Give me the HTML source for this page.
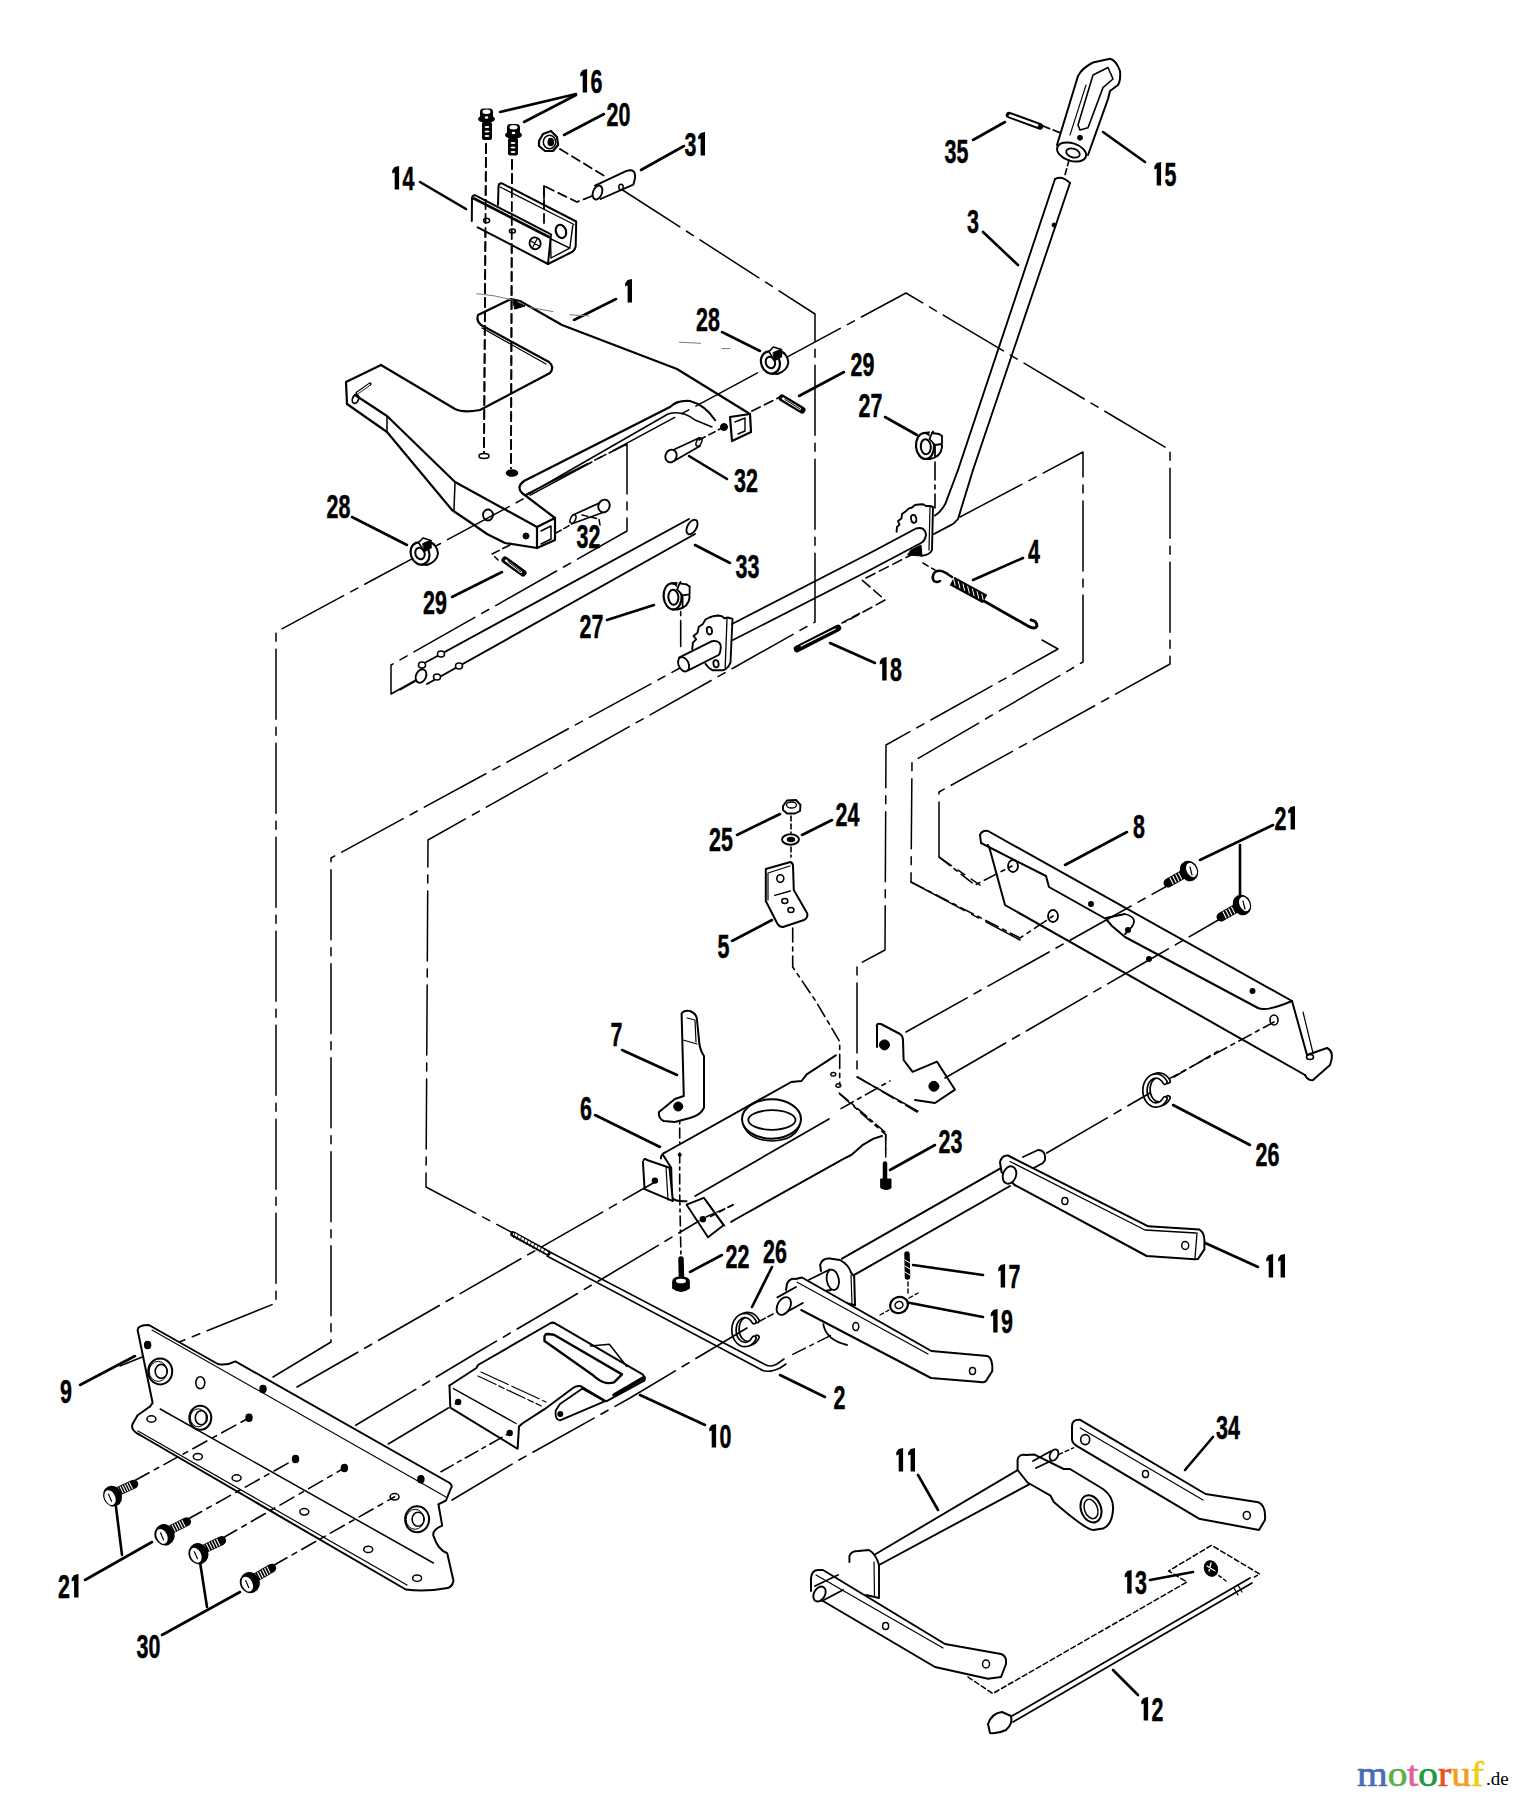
<!DOCTYPE html>
<html><head><meta charset="utf-8"><style>
html,body{margin:0;padding:0;background:#fff;}
svg{display:block;}
text{font-family:"Liberation Sans",sans-serif;font-weight:bold;fill:#000;}
</style></head><body>
<svg width="1516" height="1800" viewBox="0 0 1516 1800">
<rect width="1516" height="1800" fill="#fff"/>
<g fill="none" stroke="#000" stroke-linecap="round" stroke-linejoin="round">
<path d="M582.7,70.1 L587.1,69.1 L587.1,92.5 L582.7,92.5 L582.7,75.6 L580.3,76.6 L580.3,73.3 Z" fill="#000" stroke="none"/>
<g transform="translate(596.5,92.5) scale(0.650,1)"><text x="0" y="0" font-size="33.0" text-anchor="middle" stroke="#000" stroke-width="0.5">6</text></g>
<g transform="translate(612.5,125.5) scale(0.650,1)"><text x="0" y="0" font-size="33.0" text-anchor="middle" stroke="#000" stroke-width="0.5">2</text></g>
<g transform="translate(624.5,125.5) scale(0.650,1)"><text x="0" y="0" font-size="33.0" text-anchor="middle" stroke="#000" stroke-width="0.5">0</text></g>
<g transform="translate(690.5,155.5) scale(0.650,1)"><text x="0" y="0" font-size="33.0" text-anchor="middle" stroke="#000" stroke-width="0.5">3</text></g>
<path d="M700.6,133.1 L705.0,132.1 L705.0,155.5 L700.6,155.5 L700.6,138.6 L698.2,139.6 L698.2,136.3 Z" fill="#000" stroke="none"/>
<path d="M394.7,167.1 L399.1,166.1 L399.1,189.5 L394.7,189.5 L394.7,172.6 L392.3,173.6 L392.3,170.3 Z" fill="#000" stroke="none"/>
<g transform="translate(408.5,189.5) scale(0.650,1)"><text x="0" y="0" font-size="33.0" text-anchor="middle" stroke="#000" stroke-width="0.5">4</text></g>
<path d="M627.6,280.1 L632.0,279.1 L632.0,302.5 L627.6,302.5 L627.6,285.6 L625.2,286.6 L625.2,283.3 Z" fill="#000" stroke="none"/>
<g transform="translate(702.0,330.5) scale(0.650,1)"><text x="0" y="0" font-size="33.0" text-anchor="middle" stroke="#000" stroke-width="0.5">2</text></g>
<g transform="translate(714.0,330.5) scale(0.650,1)"><text x="0" y="0" font-size="33.0" text-anchor="middle" stroke="#000" stroke-width="0.5">8</text></g>
<g transform="translate(856.5,375.5) scale(0.650,1)"><text x="0" y="0" font-size="33.0" text-anchor="middle" stroke="#000" stroke-width="0.5">2</text></g>
<g transform="translate(868.5,375.5) scale(0.650,1)"><text x="0" y="0" font-size="33.0" text-anchor="middle" stroke="#000" stroke-width="0.5">9</text></g>
<g transform="translate(740.0,491.5) scale(0.650,1)"><text x="0" y="0" font-size="33.0" text-anchor="middle" stroke="#000" stroke-width="0.5">3</text></g>
<g transform="translate(752.0,491.5) scale(0.650,1)"><text x="0" y="0" font-size="33.0" text-anchor="middle" stroke="#000" stroke-width="0.5">2</text></g>
<g transform="translate(864.5,416.5) scale(0.650,1)"><text x="0" y="0" font-size="33.0" text-anchor="middle" stroke="#000" stroke-width="0.5">2</text></g>
<g transform="translate(876.5,416.5) scale(0.650,1)"><text x="0" y="0" font-size="33.0" text-anchor="middle" stroke="#000" stroke-width="0.5">7</text></g>
<g transform="translate(332.5,517.5) scale(0.650,1)"><text x="0" y="0" font-size="33.0" text-anchor="middle" stroke="#000" stroke-width="0.5">2</text></g>
<g transform="translate(344.5,517.5) scale(0.650,1)"><text x="0" y="0" font-size="33.0" text-anchor="middle" stroke="#000" stroke-width="0.5">8</text></g>
<g transform="translate(582.5,547.5) scale(0.650,1)"><text x="0" y="0" font-size="33.0" text-anchor="middle" stroke="#000" stroke-width="0.5">3</text></g>
<g transform="translate(594.5,547.5) scale(0.650,1)"><text x="0" y="0" font-size="33.0" text-anchor="middle" stroke="#000" stroke-width="0.5">2</text></g>
<g transform="translate(429.0,613.5) scale(0.650,1)"><text x="0" y="0" font-size="33.0" text-anchor="middle" stroke="#000" stroke-width="0.5">2</text></g>
<g transform="translate(441.0,613.5) scale(0.650,1)"><text x="0" y="0" font-size="33.0" text-anchor="middle" stroke="#000" stroke-width="0.5">9</text></g>
<g transform="translate(585.5,637.5) scale(0.650,1)"><text x="0" y="0" font-size="33.0" text-anchor="middle" stroke="#000" stroke-width="0.5">2</text></g>
<g transform="translate(597.5,637.5) scale(0.650,1)"><text x="0" y="0" font-size="33.0" text-anchor="middle" stroke="#000" stroke-width="0.5">7</text></g>
<g transform="translate(741.5,577.5) scale(0.650,1)"><text x="0" y="0" font-size="33.0" text-anchor="middle" stroke="#000" stroke-width="0.5">3</text></g>
<g transform="translate(753.5,577.5) scale(0.650,1)"><text x="0" y="0" font-size="33.0" text-anchor="middle" stroke="#000" stroke-width="0.5">3</text></g>
<g transform="translate(950.5,162.5) scale(0.650,1)"><text x="0" y="0" font-size="33.0" text-anchor="middle" stroke="#000" stroke-width="0.5">3</text></g>
<g transform="translate(962.5,162.5) scale(0.650,1)"><text x="0" y="0" font-size="33.0" text-anchor="middle" stroke="#000" stroke-width="0.5">5</text></g>
<path d="M1156.7,163.1 L1161.1,162.1 L1161.1,185.5 L1156.7,185.5 L1156.7,168.6 L1154.3,169.6 L1154.3,166.3 Z" fill="#000" stroke="none"/>
<g transform="translate(1170.5,185.5) scale(0.650,1)"><text x="0" y="0" font-size="33.0" text-anchor="middle" stroke="#000" stroke-width="0.5">5</text></g>
<g transform="translate(973.0,232.5) scale(0.650,1)"><text x="0" y="0" font-size="33.0" text-anchor="middle" stroke="#000" stroke-width="0.5">3</text></g>
<g transform="translate(1034.0,562.5) scale(0.650,1)"><text x="0" y="0" font-size="33.0" text-anchor="middle" stroke="#000" stroke-width="0.5">4</text></g>
<path d="M882.2,658.1 L886.6,657.1 L886.6,680.5 L882.2,680.5 L882.2,663.6 L879.8,664.6 L879.8,661.3 Z" fill="#000" stroke="none"/>
<g transform="translate(896.0,680.5) scale(0.650,1)"><text x="0" y="0" font-size="33.0" text-anchor="middle" stroke="#000" stroke-width="0.5">8</text></g>
<g transform="translate(715.0,850.5) scale(0.650,1)"><text x="0" y="0" font-size="33.0" text-anchor="middle" stroke="#000" stroke-width="0.5">2</text></g>
<g transform="translate(727.0,850.5) scale(0.650,1)"><text x="0" y="0" font-size="33.0" text-anchor="middle" stroke="#000" stroke-width="0.5">5</text></g>
<g transform="translate(841.5,825.5) scale(0.650,1)"><text x="0" y="0" font-size="33.0" text-anchor="middle" stroke="#000" stroke-width="0.5">2</text></g>
<g transform="translate(853.5,825.5) scale(0.650,1)"><text x="0" y="0" font-size="33.0" text-anchor="middle" stroke="#000" stroke-width="0.5">4</text></g>
<g transform="translate(723.5,957.5) scale(0.650,1)"><text x="0" y="0" font-size="33.0" text-anchor="middle" stroke="#000" stroke-width="0.5">5</text></g>
<g transform="translate(616.5,1045.5) scale(0.650,1)"><text x="0" y="0" font-size="33.0" text-anchor="middle" stroke="#000" stroke-width="0.5">7</text></g>
<g transform="translate(586.0,1119.5) scale(0.650,1)"><text x="0" y="0" font-size="33.0" text-anchor="middle" stroke="#000" stroke-width="0.5">6</text></g>
<g transform="translate(1139.0,837.5) scale(0.650,1)"><text x="0" y="0" font-size="33.0" text-anchor="middle" stroke="#000" stroke-width="0.5">8</text></g>
<g transform="translate(1280.5,829.5) scale(0.650,1)"><text x="0" y="0" font-size="33.0" text-anchor="middle" stroke="#000" stroke-width="0.5">2</text></g>
<path d="M1290.6,807.1 L1295.0,806.1 L1295.0,829.5 L1290.6,829.5 L1290.6,812.6 L1288.2,813.6 L1288.2,810.3 Z" fill="#000" stroke="none"/>
<g transform="translate(944.5,1152.5) scale(0.650,1)"><text x="0" y="0" font-size="33.0" text-anchor="middle" stroke="#000" stroke-width="0.5">2</text></g>
<g transform="translate(956.5,1152.5) scale(0.650,1)"><text x="0" y="0" font-size="33.0" text-anchor="middle" stroke="#000" stroke-width="0.5">3</text></g>
<g transform="translate(731.5,1267.5) scale(0.650,1)"><text x="0" y="0" font-size="33.0" text-anchor="middle" stroke="#000" stroke-width="0.5">2</text></g>
<g transform="translate(743.5,1267.5) scale(0.650,1)"><text x="0" y="0" font-size="33.0" text-anchor="middle" stroke="#000" stroke-width="0.5">2</text></g>
<g transform="translate(769.0,1262.5) scale(0.650,1)"><text x="0" y="0" font-size="33.0" text-anchor="middle" stroke="#000" stroke-width="0.5">2</text></g>
<g transform="translate(781.0,1262.5) scale(0.650,1)"><text x="0" y="0" font-size="33.0" text-anchor="middle" stroke="#000" stroke-width="0.5">6</text></g>
<g transform="translate(1261.5,1166.0) scale(0.650,1)"><text x="0" y="0" font-size="33.0" text-anchor="middle" stroke="#000" stroke-width="0.5">2</text></g>
<g transform="translate(1273.5,1166.0) scale(0.650,1)"><text x="0" y="0" font-size="33.0" text-anchor="middle" stroke="#000" stroke-width="0.5">6</text></g>
<path d="M1000.7,1265.1 L1005.1,1264.1 L1005.1,1287.5 L1000.7,1287.5 L1000.7,1270.6 L998.3,1271.6 L998.3,1268.3 Z" fill="#000" stroke="none"/>
<g transform="translate(1014.5,1287.5) scale(0.650,1)"><text x="0" y="0" font-size="33.0" text-anchor="middle" stroke="#000" stroke-width="0.5">7</text></g>
<path d="M993.2,1310.1 L997.6,1309.1 L997.6,1332.5 L993.2,1332.5 L993.2,1315.6 L990.8,1316.6 L990.8,1313.3 Z" fill="#000" stroke="none"/>
<g transform="translate(1007.0,1332.5) scale(0.650,1)"><text x="0" y="0" font-size="33.0" text-anchor="middle" stroke="#000" stroke-width="0.5">9</text></g>
<path d="M1268.7,1255.1 L1273.1,1254.1 L1273.1,1277.5 L1268.7,1277.5 L1268.7,1260.6 L1266.3,1261.6 L1266.3,1258.3 Z" fill="#000" stroke="none"/>
<path d="M1280.6,1255.1 L1285.0,1254.1 L1285.0,1277.5 L1280.6,1277.5 L1280.6,1260.6 L1278.2,1261.6 L1278.2,1258.3 Z" fill="#000" stroke="none"/>
<g transform="translate(839.5,1408.5) scale(0.650,1)"><text x="0" y="0" font-size="33.0" text-anchor="middle" stroke="#000" stroke-width="0.5">2</text></g>
<path d="M711.7,1425.1 L716.1,1424.1 L716.1,1447.5 L711.7,1447.5 L711.7,1430.6 L709.3,1431.6 L709.3,1428.3 Z" fill="#000" stroke="none"/>
<g transform="translate(725.5,1447.5) scale(0.650,1)"><text x="0" y="0" font-size="33.0" text-anchor="middle" stroke="#000" stroke-width="0.5">0</text></g>
<g transform="translate(66.0,1402.5) scale(0.650,1)"><text x="0" y="0" font-size="33.0" text-anchor="middle" stroke="#000" stroke-width="0.5">9</text></g>
<g transform="translate(64.0,1597.5) scale(0.650,1)"><text x="0" y="0" font-size="33.0" text-anchor="middle" stroke="#000" stroke-width="0.5">2</text></g>
<path d="M74.1,1575.1 L78.5,1574.1 L78.5,1597.5 L74.1,1597.5 L74.1,1580.6 L71.7,1581.6 L71.7,1578.3 Z" fill="#000" stroke="none"/>
<g transform="translate(142.5,1657.5) scale(0.650,1)"><text x="0" y="0" font-size="33.0" text-anchor="middle" stroke="#000" stroke-width="0.5">3</text></g>
<g transform="translate(154.5,1657.5) scale(0.650,1)"><text x="0" y="0" font-size="33.0" text-anchor="middle" stroke="#000" stroke-width="0.5">0</text></g>
<g transform="translate(1222.0,1438.5) scale(0.650,1)"><text x="0" y="0" font-size="33.0" text-anchor="middle" stroke="#000" stroke-width="0.5">3</text></g>
<g transform="translate(1234.0,1438.5) scale(0.650,1)"><text x="0" y="0" font-size="33.0" text-anchor="middle" stroke="#000" stroke-width="0.5">4</text></g>
<path d="M898.7,1449.1 L903.1,1448.1 L903.1,1471.5 L898.7,1471.5 L898.7,1454.6 L896.3,1455.6 L896.3,1452.3 Z" fill="#000" stroke="none"/>
<path d="M910.6,1449.1 L915.0,1448.1 L915.0,1471.5 L910.6,1471.5 L910.6,1454.6 L908.2,1455.6 L908.2,1452.3 Z" fill="#000" stroke="none"/>
<path d="M1127.2,1571.1 L1131.6,1570.1 L1131.6,1593.5 L1127.2,1593.5 L1127.2,1576.6 L1124.8,1577.6 L1124.8,1574.3 Z" fill="#000" stroke="none"/>
<g transform="translate(1141.0,1593.5) scale(0.650,1)"><text x="0" y="0" font-size="33.0" text-anchor="middle" stroke="#000" stroke-width="0.5">3</text></g>
<path d="M1143.7,1698.1 L1148.1,1697.1 L1148.1,1720.5 L1143.7,1720.5 L1143.7,1703.6 L1141.3,1704.6 L1141.3,1701.3 Z" fill="#000" stroke="none"/>
<g transform="translate(1157.5,1720.5) scale(0.650,1)"><text x="0" y="0" font-size="33.0" text-anchor="middle" stroke="#000" stroke-width="0.5">2</text></g>
<line x1="576" y1="94" x2="500" y2="112" stroke-width="2.6"/>
<line x1="576" y1="95" x2="524" y2="122" stroke-width="2.6"/>
<line x1="604" y1="114" x2="564" y2="135" stroke-width="2.6"/>
<line x1="684" y1="146" x2="641" y2="170" stroke-width="2.6"/>
<line x1="420" y1="182" x2="466" y2="209" stroke-width="2.6"/>
<line x1="616" y1="299" x2="574" y2="320" stroke-width="2.6"/>
<line x1="722" y1="332" x2="760" y2="351" stroke-width="2.6"/>
<line x1="844" y1="372" x2="799" y2="396" stroke-width="2.6"/>
<line x1="689" y1="456" x2="727" y2="479" stroke-width="2.6"/>
<line x1="885" y1="417" x2="917" y2="435" stroke-width="2.6"/>
<line x1="352" y1="517" x2="407" y2="545" stroke-width="2.6"/>
<line x1="452" y1="597" x2="502" y2="572" stroke-width="2.6"/>
<line x1="607" y1="620" x2="654" y2="605" stroke-width="2.6"/>
<line x1="973" y1="140" x2="1005" y2="122" stroke-width="2.6"/>
<line x1="1103" y1="132" x2="1145" y2="162" stroke-width="2.6"/>
<line x1="983" y1="232" x2="1018" y2="265" stroke-width="2.6"/>
<line x1="973" y1="580" x2="1023" y2="558" stroke-width="2.6"/>
<line x1="830" y1="643" x2="875" y2="663" stroke-width="2.6"/>
<line x1="737" y1="835" x2="780" y2="814" stroke-width="2.6"/>
<line x1="802" y1="835" x2="832" y2="820" stroke-width="2.6"/>
<line x1="732" y1="941" x2="772" y2="920" stroke-width="2.6"/>
<line x1="622" y1="1050" x2="677" y2="1075" stroke-width="2.6"/>
<line x1="595" y1="1115" x2="660" y2="1147" stroke-width="2.6"/>
<line x1="1065" y1="865" x2="1127" y2="832" stroke-width="2.6"/>
<line x1="1200" y1="860" x2="1273" y2="825" stroke-width="2.6"/>
<line x1="690" y1="1272" x2="722" y2="1255" stroke-width="2.6"/>
<line x1="752" y1="1307" x2="772" y2="1267" stroke-width="2.6"/>
<line x1="1173" y1="1105" x2="1250" y2="1145" stroke-width="2.6"/>
<line x1="890" y1="1170" x2="935" y2="1145" stroke-width="2.6"/>
<line x1="1203" y1="1242" x2="1258" y2="1267" stroke-width="2.6"/>
<line x1="913" y1="1265" x2="983" y2="1275" stroke-width="2.6"/>
<line x1="905" y1="1302" x2="983" y2="1317" stroke-width="2.6"/>
<line x1="780" y1="1375" x2="825" y2="1397" stroke-width="2.6"/>
<line x1="640" y1="1395" x2="705" y2="1425" stroke-width="2.6"/>
<line x1="80" y1="1385" x2="135" y2="1356" stroke-width="2.6"/>
<line x1="85" y1="1580" x2="152" y2="1542" stroke-width="2.6"/>
<line x1="116" y1="1507" x2="122" y2="1555" stroke-width="2.6"/>
<line x1="162" y1="1635" x2="240" y2="1592" stroke-width="2.6"/>
<line x1="200" y1="1562" x2="207" y2="1607" stroke-width="2.6"/>
<line x1="1185" y1="1470" x2="1213" y2="1437" stroke-width="2.6"/>
<line x1="918" y1="1475" x2="938" y2="1510" stroke-width="2.6"/>
<line x1="1150" y1="1580" x2="1193" y2="1572" stroke-width="2.6"/>
<line x1="1113" y1="1670" x2="1138" y2="1695" stroke-width="2.6"/>
<line x1="695" y1="545" x2="730" y2="563" stroke-width="2.6"/>
<line x1="1240" y1="845" x2="1240" y2="905" stroke-width="2.6"/>
<polyline points="621,189 815,314 815,622 428,840 426,1187 513,1233" stroke-width="1.5" fill="none" stroke-dasharray="70 8 8 8" stroke-dashoffset="0"/>
<polyline points="120,1366 276,1303 276,632 906,293 1170,450 1170,664 939,792 939,857 980,885" stroke-width="1.5" fill="none" stroke-dasharray="70 8 8 8" stroke-dashoffset="0"/>
<polyline points="273,1377 331,1342 331,858 680,668" stroke-width="1.5" fill="none" stroke-dasharray="70 8 8 8" stroke-dashoffset="0"/>
<polyline points="960,517 1083,452 1083,662 912,762 911,882 1020,940" stroke-width="1.5" fill="none" stroke-dasharray="70 8 8 8" stroke-dashoffset="0"/>
<polyline points="923,563 935,570" stroke-width="1.5" fill="none" stroke-dasharray="6 4" stroke-dashoffset="0"/>
<polyline points="1042,640 1058,649 886,745 885,950 857,965 857,1077 925,1115" stroke-width="1.5" fill="none" stroke-dasharray="70 8 8 8" stroke-dashoffset="0"/>
<polyline points="525,495 627,444 627,531 391,665 391,694 416,680" stroke-width="1.5" fill="none" stroke-dasharray="70 8 8 8" stroke-dashoffset="0"/>
<polyline points="915,553 862,580 885,600 845,622" stroke-width="1.6" fill="none" stroke-dasharray="10 5" stroke-dashoffset="0"/>
<rect x="480" y="108.5" width="13" height="11.5" rx="3.5" fill="#000" stroke="none"/>
<ellipse cx="486.5" cy="119" rx="8.5" ry="4" transform="rotate(0 486.5 119)" stroke-width="0" fill="#000"/>
<rect x="482" y="122" width="10" height="18" rx="2" fill="#000" stroke="none"/>
<ellipse cx="486.5" cy="111.7" rx="4.0" ry="2.2" transform="rotate(0 486.5 111.7)" stroke-width="0" fill="#fff"/>
<ellipse cx="486.5" cy="117.5" rx="1.8" ry="1.2" transform="rotate(0 486.5 117.5)" stroke-width="0" fill="#fff"/>
<ellipse cx="487.0" cy="127.0" rx="2.5" ry="0.9" transform="rotate(0 487.0 127.0)" stroke-width="0" fill="#fff"/>
<ellipse cx="487.0" cy="131.5" rx="2.5" ry="0.9" transform="rotate(0 487.0 131.5)" stroke-width="0" fill="#fff"/>
<ellipse cx="487.0" cy="136.0" rx="2.5" ry="0.9" transform="rotate(0 487.0 136.0)" stroke-width="0" fill="#fff"/>
<rect x="507" y="124" width="13" height="12" rx="3.5" fill="#000" stroke="none"/>
<ellipse cx="513.5" cy="135" rx="8.5" ry="4" transform="rotate(0 513.5 135)" stroke-width="0" fill="#000"/>
<rect x="508" y="138" width="10" height="17.5" rx="2" fill="#000" stroke="none"/>
<ellipse cx="513.5" cy="127.2" rx="4.0" ry="2.2" transform="rotate(0 513.5 127.2)" stroke-width="0" fill="#fff"/>
<ellipse cx="513.5" cy="133" rx="1.8" ry="1.2" transform="rotate(0 513.5 133)" stroke-width="0" fill="#fff"/>
<ellipse cx="513.0" cy="143.0" rx="2.5" ry="0.9" transform="rotate(0 513.0 143.0)" stroke-width="0" fill="#fff"/>
<ellipse cx="513.0" cy="147.5" rx="2.5" ry="0.9" transform="rotate(0 513.0 147.5)" stroke-width="0" fill="#fff"/>
<ellipse cx="513.0" cy="152.0" rx="2.5" ry="0.9" transform="rotate(0 513.0 152.0)" stroke-width="0" fill="#fff"/>
<polyline points="486,144 484,452" stroke-width="1.8" fill="none" stroke-dasharray="9 5" stroke-dashoffset="0"/>
<polyline points="512,160 511,468" stroke-width="1.8" fill="none" stroke-dasharray="9 5" stroke-dashoffset="0"/>
<ellipse cx="484" cy="456" rx="5" ry="2.5" transform="rotate(0 484 456)" stroke-width="1.6" fill="none"/>
<ellipse cx="512" cy="473" rx="5.5" ry="3" transform="rotate(0 512 473)" stroke-width="1.6" fill="#000"/>
<path d="M539,141 L543,134 L551,131 L557,137 L558,145 L553,151 L545,151 L539,146 Z" stroke-width="2.2" fill="#fff" />
<ellipse cx="549.5" cy="142" rx="6.2" ry="6.8" transform="rotate(0 549.5 142)" stroke-width="1.5" fill="none"/>
<ellipse cx="550.8" cy="142" rx="3.3" ry="4.3" transform="rotate(0 550.8 142)" stroke-width="0" fill="#000"/>
<polyline points="560,149 606,177" stroke-width="1.8" fill="none" stroke-dasharray="9 5" stroke-dashoffset="0"/>
<path d="M595,185.7 L626.5,170.9 Q636,168 635,178 Q634,183 633.3,184.6 L600.6,199" stroke-width="1.9" fill="#fff" />
<ellipse cx="597.5" cy="192.5" rx="4.5" ry="7.2" transform="rotate(20 597.5 192.5)" stroke-width="1.9" fill="#fff"/>
<ellipse cx="621" cy="187" rx="2.2" ry="2.8" transform="rotate(0 621 187)" stroke-width="1.5" fill="none"/>
<polyline points="592,196 577,202 544,186 544,226" stroke-width="1.8" fill="none" stroke-dasharray="9 5" stroke-dashoffset="0"/>
<path d="M498,204.7 L498.5,186 Q499,183 502,183.4 L576.2,221.5 L575.7,246 Q575,251 570,253 L548,264" stroke-width="2.0" fill="#fff" />
<path d="M500,187 L574,224.5" stroke-width="1.3" fill="none" />
<path d="M471.8,221 L472,198 Q472.5,195 475,195.2 L551,234.4 L548,264 L477.7,227.4" stroke-width="2.0" fill="#fff" />
<path d="M474,198.5 L549,237" stroke-width="2.6" fill="none" />
<path d="M550.5,238.3 L551,258 L569.8,248.2 L572.8,225.4 M551,239 L569.8,248.2" stroke-width="1.4" fill="none" />
<ellipse cx="486.6" cy="220.5" rx="3" ry="2.3" transform="rotate(0 486.6 220.5)" stroke-width="1.5" fill="none"/>
<ellipse cx="512.4" cy="231" rx="3" ry="2" transform="rotate(0 512.4 231)" stroke-width="1.5" fill="none"/>
<ellipse cx="535.1" cy="243.3" rx="5.5" ry="6" transform="rotate(-20 535.1 243.3)" stroke-width="1.8" fill="none"/>
<path d="M531,241 L539,246 M533,247 L537,239" stroke-width="1.2" fill="none" />
<ellipse cx="561" cy="231.4" rx="5" ry="6.8" transform="rotate(-20 561 231.4)" stroke-width="2.2" fill="none"/>
<polyline points="486,144 484,452" stroke-width="1.8" fill="none" stroke-dasharray="9 5" stroke-dashoffset="0"/>
<polyline points="512,160 511,468" stroke-width="1.8" fill="none" stroke-dasharray="9 5" stroke-dashoffset="0"/>
<polyline points="544,186 544,226" stroke-width="1.8" fill="none" stroke-dasharray="9 5" stroke-dashoffset="0"/>
<path d="M381,365 L346,382 L347,404" stroke-width="2.2" fill="none" />
<path d="M381,365 L455,409 Q463,413 480,410 L550,373 Q555,367 549,362 L481,325 Q476,321 478,315 L511,299 L520,301 L562,325 L677,369 L750,414" stroke-width="2.2" fill="none" />
<path d="M482,328 L546,364" stroke-width="1.3" fill="none" />
<path d="M513,300 L525,306 L515,309 Z" stroke-width="1" fill="#000" />
<path d="M355,395 L387,416 L455,482 L537,527" stroke-width="2.2" fill="none" />
<path d="M347,404 L387,432 L452,510 Q470,522 487,534 L505,543 L537,548" stroke-width="2.2" fill="none" />
<path d="M387,416 L387,432 M455,482 L454,510" stroke-width="1.5" fill="none" />
<path d="M537,527 L555,518 L555,540 L537,548 Z" stroke-width="2.2" fill="none" />
<path d="M541,531 L551,526 L551,539 L541,544" stroke-width="1.5" fill="none" />
<path d="M555,518 L522,493 Q516,487 524,481 L670,407 Q677,400 690,401 Q705,405 715,420" stroke-width="2.2" fill="none" />
<path d="M527,495 L668,414 Q682,410 695,420 L712,427" stroke-width="1.5" fill="none" />
<path d="M750,414 L751,432 L732,441 L730,417 Z" stroke-width="2.2" fill="none" />
<path d="M735,422 L745,418 L745,431 L738,434" stroke-width="1.4" fill="none" />
<ellipse cx="488" cy="515" rx="5" ry="5.5" transform="rotate(0 488 515)" stroke-width="1.8" fill="none"/>
<circle cx="526" cy="536" r="3" stroke-width="1" fill="#000"/>
<circle cx="724" cy="427" r="3.5" stroke-width="1" fill="#000"/>
<path d="M357,393 L370,384" stroke-width="3.2" fill="none" />
<path d="M357.5,393 L369.5,384.5" stroke-width="1.2" fill="none" stroke="#fff"/>
<ellipse cx="355.5" cy="399" rx="3" ry="4.5" transform="rotate(20 355.5 399)" stroke-width="1.7" fill="none"/>
<path d="M477,293.7 Q495,295 512.8,300 M529.7,307.4 L552.9,311.6 M569.8,314.8 L588.8,315.9 M679.5,342.2 L700.6,343.3 M721.8,348.6 L730,348.6" stroke="#777" stroke-width="1" fill="none"/>
<path d="M423,543.0 L429,541.5 Q437,544.5 438,553.5 Q437,561.5 427,565.0 L422,564.5" stroke-width="2.0" fill="#fff" />
<ellipse cx="420" cy="553.5" rx="9.2" ry="11.3" transform="rotate(-20 420 553.5)" stroke-width="2.2" fill="#fff"/>
<ellipse cx="420" cy="553.5" rx="4.6" ry="5.8" transform="rotate(-20 420 553.5)" stroke-width="2.0" fill="none"/>
<path d="M418.5,542.5 L423,538.0 L431,540.5 L431,547.5 L424,551.5 Z" stroke-width="1.6" fill="#fff" />
<path d="M423,543.5 L430,540.5 L430.5,547.0 L424,551.0 Z" stroke-width="1" fill="#000" />
<path d="M773.4,352.0 L779.4,350.5 Q787.4,353.5 788.4,362.5 Q787.4,370.5 777.4,374.0 L772.4,373.5" stroke-width="2.0" fill="#fff" />
<ellipse cx="770.4" cy="362.5" rx="9.2" ry="11.3" transform="rotate(-20 770.4 362.5)" stroke-width="2.2" fill="#fff"/>
<ellipse cx="770.4" cy="362.5" rx="4.6" ry="5.8" transform="rotate(-20 770.4 362.5)" stroke-width="2.0" fill="none"/>
<path d="M768.9,351.5 L773.4,347.0 L781.4,349.5 L781.4,356.5 L774.4,360.5 Z" stroke-width="1.6" fill="#fff" />
<path d="M773.4,352.5 L780.4,349.5 L780.9,356.0 L774.4,360.0 Z" stroke-width="1" fill="#000" />
<path d="M505,560 L523,573" stroke-width="7" fill="none" />
<path d="M506,560.5 L521,572" stroke-width="2.2" fill="none" stroke="#fff"/>
<path d="M508,561.5 L521,572" stroke-width="1.0" fill="none" />
<path d="M782,398 L802,410" stroke-width="7" fill="none" />
<path d="M783,398.5 L800,409" stroke-width="2.2" fill="none" stroke="#fff"/>
<path d="M785,399.5 L800,409" stroke-width="1.0" fill="none" />
<polyline points="752,411 780,397" stroke-width="1.8" fill="none" stroke-dasharray="9 5" stroke-dashoffset="0"/>
<polyline points="510,545 492,554 498,560" stroke-width="1.6" fill="none" stroke-dasharray="8 4" stroke-dashoffset="0"/>
<path d="M673,450 L699,438 M674,461 L700,446" stroke-width="1.8" fill="none" />
<ellipse cx="699" cy="442" rx="2.5" ry="4.5" transform="rotate(25 699 442)" stroke-width="1.5" fill="none"/>
<ellipse cx="671" cy="456" rx="5.5" ry="6.5" transform="rotate(25 671 456)" stroke-width="1.9" fill="#fff"/>
<path d="M606,500 L573,515 M607,511 L574,523" stroke-width="1.8" fill="none" />
<ellipse cx="573" cy="519" rx="2.5" ry="4.5" transform="rotate(25 573 519)" stroke-width="1.5" fill="none"/>
<ellipse cx="604" cy="506" rx="5.5" ry="6.5" transform="rotate(25 604 506)" stroke-width="1.9" fill="#fff"/>
<polyline points="699,440 722,428" stroke-width="1.6" fill="none" stroke-dasharray="7 4" stroke-dashoffset="0"/>
<polyline points="582,515 599,519 600,525" stroke-width="1.5" fill="none" stroke-dasharray="6 3" stroke-dashoffset="0"/>
<polyline points="556,533 572,524" stroke-width="1.5" fill="none" stroke-dasharray="6 3" stroke-dashoffset="0"/>
<path d="M419,666 L689,519 M427,684 L695,534" stroke-width="1.9" fill="none" />
<ellipse cx="692" cy="527" rx="4.5" ry="8" transform="rotate(30 692 527)" stroke-width="1.9" fill="none"/>
<ellipse cx="421" cy="676" rx="5" ry="7" transform="rotate(25 421 676)" stroke-width="1.9" fill="#fff"/>
<ellipse cx="422" cy="665" rx="3.5" ry="3" transform="rotate(0 422 665)" stroke-width="1.6" fill="#fff"/>
<ellipse cx="441" cy="654" rx="3.5" ry="3" transform="rotate(0 441 654)" stroke-width="1.6" fill="#fff"/>
<ellipse cx="437" cy="677" rx="3.5" ry="3" transform="rotate(0 437 677)" stroke-width="1.6" fill="#fff"/>
<ellipse cx="459" cy="666" rx="3.5" ry="3" transform="rotate(0 459 666)" stroke-width="1.6" fill="#fff"/>
<path d="M416,681 L400,690" stroke-width="1.4" fill="none" />
<path d="M671.6,583.4 L680.6,582.4 Q689.6,587.4 689.6,597.4 Q688.6,607.4 677.6,609.4 L672.6,609.4" stroke-width="2.0" fill="#fff" />
<ellipse cx="672.6" cy="596.4" rx="9" ry="13" transform="rotate(-5 672.6 596.4)" stroke-width="2.2" fill="#fff"/>
<ellipse cx="673.4" cy="597.1999999999999" rx="5" ry="7.5" transform="rotate(-5 673.4 597.1999999999999)" stroke-width="2.0" fill="none"/>
<polygon points="676.6,590.4 677.6,580.4 691.6,582.4 691.6,594.4 682.6,595.4" fill="#fff" stroke="none"/>
<path d="M677.1,589.4 L679.6,583.4 L686.6,584.4 M677.1,589.4 L682.6,595.4 L689.6,594.4 L689.6,586.4 M682.6,595.4 L682.6,607.4" stroke-width="1.8" fill="none" />
<path d="M679.6,583.4 L680.6,581.9 M686.6,584.4 L689.6,586.4" stroke-width="1.8" fill="none" />
<path d="M924,433 L933,432 Q942,437 942,447 Q941,457 930,459 L925,459" stroke-width="2.0" fill="#fff" />
<ellipse cx="925" cy="446" rx="9" ry="13" transform="rotate(-5 925 446)" stroke-width="2.2" fill="#fff"/>
<ellipse cx="925.8" cy="446.8" rx="5" ry="7.5" transform="rotate(-5 925.8 446.8)" stroke-width="2.0" fill="none"/>
<polygon points="929,440 930,430 944,432 944,444 935,445" fill="#fff" stroke="none"/>
<path d="M929.5,439 L932,433 L939,434 M929.5,439 L935,445 L942,444 L942,436 M935,445 L935,457" stroke-width="1.8" fill="none" />
<path d="M932,433 L933,431.5 M939,434 L942,436" stroke-width="1.8" fill="none" />
<polyline points="680.7,611.6 680.7,646.5" stroke-width="1.6" fill="none" stroke-dasharray="4 5 30 5" stroke-dashoffset="0"/>
<polyline points="935,462 935,508" stroke-width="1.6" fill="none" stroke-dasharray="18 5 4 5" stroke-dashoffset="0"/>
<path d="M692.2,649.2 L692.9,642.6 L696.2,639.3 L693.5,636 L697.5,632.7 L698.8,626.7 L702.8,624.1 L705.4,619.5 L709.4,617.5 L713.3,616.2 L718,615.5 L721.9,616.2 L724.5,618.2 L727.8,617.5 L732.5,618.8 L730.5,662.3 Q728,669 722.6,670.3 L712.7,670.3 Q708,668 705.4,663.7" stroke-width="1.9" fill="#fff" />
<path d="M727,618.8 L725.2,667.6" stroke-width="1.3" fill="none" />
<ellipse cx="709.4" cy="630.7" rx="2.6" ry="3.8" transform="rotate(-10 709.4 630.7)" stroke-width="1.8" fill="none"/>
<ellipse cx="716" cy="663.7" rx="2.6" ry="3.6" transform="rotate(-10 716 663.7)" stroke-width="1.8" fill="none"/>
<path d="M679,657.7 L712,641.2 Q722,640 720.6,649.2 Q720,654 718.6,655 L688.3,670.3" stroke-width="1.9" fill="#fff" />
<ellipse cx="683.6" cy="664.3" rx="5" ry="7.5" transform="rotate(-25 683.6 664.3)" stroke-width="1.9" fill="#fff"/>
<path d="M732,624 L870,553 M733,640 L870,570" stroke-width="1.7" fill="none" />
<path d="M958,470 L1055,179 M973,470 L1070,183" stroke-width="1.9" fill="none" />
<path d="M958,470 L945.5,503.4 Q941,512 935,515.5 M973,470 L958,519 Q954,524 949.8,525.7 L934,534" stroke-width="1.9" fill="none" />
<path d="M1055,179 Q1062,175 1070,183" stroke-width="1.9" fill="none" />
<circle cx="1054" cy="225" r="2" stroke-width="1" fill="#000"/>
<path d="M896.6,531.7 L897,527 L899.5,524.5 L898,521 L901.5,518.5 L902,514 L905.5,511.5 L908.6,508.6 L912,507.5 L915,505 L919,504.5 L923.2,504.3 L926,506 L930,506 L933,507 L932,550 Q930,555 921.5,555.8" stroke-width="1.9" fill="#fff" />
<path d="M930,507 L929,550" stroke-width="1.2" fill="none" />
<ellipse cx="913.7" cy="518.9" rx="2.6" ry="4" transform="rotate(-10 913.7 518.9)" stroke-width="1.8" fill="none"/>
<path d="M870,553 L916,528.5 Q925,526 926,535 Q925,541 921,543 L870,570 Z" stroke-width="0" fill="#fff" stroke="none"/>
<path d="M870,553 L916,528.5 Q925,526 926,535 Q925,541 921,543 L870,570" stroke-width="1.9" fill="none" />
<path d="M911,550 L921,545 L922,556 L908,555 Z" stroke-width="1" fill="#000" />
<path d="M1057,145 L1078,76 Q1082,68 1093,62.5 L1110,58.8 Q1116,60 1120,71 Q1121,80 1118,85 L1110,91 L1108,99 L1088,155" stroke-width="2.0" fill="#fff" />
<ellipse cx="1071.6" cy="152" rx="15" ry="8.8" transform="rotate(18 1071.6 152)" stroke-width="2.0" fill="#fff"/>
<ellipse cx="1073" cy="153" rx="7" ry="4.4" transform="rotate(18 1073 153)" stroke-width="1.8" fill="none"/>
<path d="M1078,125 L1093,75 L1108,67.5 L1113,79 L1103,87.6 L1088,127.7 L1080,130 Z" stroke-width="1.6" fill="none" />
<path d="M1070,135 L1086,85" stroke-width="1.1" fill="none" />
<circle cx="1080" cy="137.7" r="2.5" stroke-width="1" fill="#000"/>
<path d="M1009,115 L1040,126.4" stroke-width="6.5" fill="none" />
<path d="M1010,115.5 L1037,125.3" stroke-width="2.6" fill="none" stroke="#fff"/>
<polyline points="1043,126 1060,132.7" stroke-width="1.8" fill="none" stroke-dasharray="7 4" stroke-dashoffset="0"/>
<polyline points="1069,160 1064.7,176" stroke-width="1.6" fill="none" stroke-dasharray="6 3" stroke-dashoffset="0"/>
<path d="M797,649 L838,628" stroke-width="6.5" fill="none" />
<path d="M801,646 L835,629" stroke-width="1.2" fill="none" stroke="#fff"/>
<polyline points="842,623 862,612" stroke-width="1.6" fill="none" stroke-dasharray="8 4" stroke-dashoffset="0"/>
<path d="M946,573 Q940,569 935,572 Q931,577 934,581 Q937,583 940,581" stroke-width="2.6" fill="none" />
<path d="M946,573 L952,577" stroke-width="2.4" fill="none" />
<path d="M952,581 L985,599" stroke-width="9.5" fill="none" stroke-linecap="butt"/>
<path d="M953.5571428571429,578.7857142857143 L955.1571428571428,585.2857142857143" stroke-width="1.0" fill="none" stroke="#fff"/>
<path d="M958.2714285714286,581.3571428571429 L959.8714285714285,587.8571428571429" stroke-width="1.0" fill="none" stroke="#fff"/>
<path d="M962.9857142857144,583.9285714285714 L964.5857142857143,590.4285714285714" stroke-width="1.0" fill="none" stroke="#fff"/>
<path d="M967.7,586.5 L969.3,593.0" stroke-width="1.0" fill="none" stroke="#fff"/>
<path d="M972.4142857142857,589.0714285714286 L974.0142857142856,595.5714285714286" stroke-width="1.0" fill="none" stroke="#fff"/>
<path d="M977.1285714285715,591.6428571428571 L978.7285714285714,598.1428571428571" stroke-width="1.0" fill="none" stroke="#fff"/>
<path d="M981.8428571428572,594.2142857142857 L983.4428571428571,600.7142857142857" stroke-width="1.0" fill="none" stroke="#fff"/>
<path d="M984,601 L1028,626 Q1035,630 1037,626 Q1037,621 1031,620" stroke-width="2.8" fill="none" />
<path d="M783,806 L787,800.5 L796,800 L800.5,805 L800,811 L795,813.5 L787,813.5 L783,810 Z" stroke-width="1.9" fill="#fff" />
<ellipse cx="791.5" cy="805" rx="5" ry="3" transform="rotate(0 791.5 805)" stroke-width="1.3" fill="none"/>
<ellipse cx="790.5" cy="839.5" rx="8.5" ry="5.2" transform="rotate(0 790.5 839.5)" stroke-width="1.9" fill="#fff"/>
<ellipse cx="791" cy="839.5" rx="3.5" ry="2" transform="rotate(0 791 839.5)" stroke-width="1.4" fill="#000"/>
<polyline points="791,816 791,833" stroke-width="1.6" fill="none" stroke-dasharray="5 3" stroke-dashoffset="0"/>
<polyline points="791,847 791,857" stroke-width="1.6" fill="none" stroke-dasharray="5 3" stroke-dashoffset="0"/>
<path d="M765.8,869 L790.4,862 Q793,863 793,866 L793.8,890 L807.3,913.5 Q808,918 804,920 L783,927 Q779,927 777,923 L765.8,901 Z" stroke-width="2.0" fill="#fff" />
<path d="M768,873 L790,866 M768,873 L768,900" stroke-width="1.2" fill="none" />
<path d="M774.7,895.4 L790.4,891" stroke-width="1.4" fill="none" />
<ellipse cx="780.3" cy="878.6" rx="3.5" ry="3.8" transform="rotate(0 780.3 878.6)" stroke-width="1.6" fill="none"/>
<ellipse cx="784.8" cy="901" rx="3" ry="2.5" transform="rotate(0 784.8 901)" stroke-width="1.5" fill="none"/>
<ellipse cx="790.9" cy="910" rx="3" ry="2.5" transform="rotate(0 790.9 910)" stroke-width="1.5" fill="none"/>
<polyline points="792.7,928 792.7,967 815,1000 839.7,1041.5 839.7,1085" stroke-width="1.6" fill="none" stroke-dasharray="14 5 4 5" stroke-dashoffset="0"/>
<polyline points="839.7,1094 885.7,1134.6 885.7,1157" stroke-width="1.6" fill="none" stroke-dasharray="14 5 4 5" stroke-dashoffset="0"/>
<path d="M980,835 Q982,830 988,831 L1292,1001" stroke-width="2.0" fill="none" />
<path d="M980,835 L981,843 L1046,876 L1049,887 L1106,919 L1112,926 L1125,937 L1258,1008 Q1266,1012 1292,1001" stroke-width="2.0" fill="none" />
<path d="M988,845 L990,850 L1005,905 L1305,1075" stroke-width="2.0" fill="none" />
<path d="M1292,1001 L1307,1055 L1327,1048 Q1335,1052 1330,1065 L1313,1080 Q1308,1081 1305,1075" stroke-width="2.0" fill="none" />
<path d="M1303,1012 L1313,1053" stroke-width="1.2" fill="none" />
<ellipse cx="1013" cy="866" rx="5" ry="6" transform="rotate(0 1013 866)" stroke-width="1.8" fill="none"/>
<ellipse cx="1053" cy="916" rx="5" ry="6" transform="rotate(0 1053 916)" stroke-width="1.8" fill="none"/>
<path d="M1106,918 L1125,914 Q1140,918 1130,929 L1125,934" stroke-width="1.8" fill="none" />
<circle cx="1091" cy="904" r="3" stroke-width="0" fill="#000"/>
<circle cx="1149" cy="959" r="3" stroke-width="0" fill="#000"/>
<circle cx="1252.5" cy="991" r="3" stroke-width="0" fill="#000"/>
<circle cx="1128" cy="930" r="3" stroke-width="0" fill="#000"/>
<ellipse cx="1274" cy="1020" rx="4" ry="5" transform="rotate(0 1274 1020)" stroke-width="1.6" fill="none"/>
<ellipse cx="1310" cy="1057" rx="3.5" ry="2.5" transform="rotate(0 1310 1057)" stroke-width="1.5" fill="none"/>
<polyline points="939,857 975,885 1012,866" stroke-width="1.6" fill="none" stroke-dasharray="14 5 4 5" stroke-dashoffset="0"/>
<polyline points="911,882 1020,938 1053,916" stroke-width="1.6" fill="none" stroke-dasharray="14 5 4 5" stroke-dashoffset="0"/>
<path d="M1189,871 L1168,883" stroke-width="9" fill="none" />
<path d="M1184.14,869.92 L1187.14,875.92" stroke-width="1.1" fill="none" stroke="#fff"/>
<path d="M1181.34,871.52 L1184.34,877.52" stroke-width="1.1" fill="none" stroke="#fff"/>
<path d="M1178.54,873.12 L1181.54,879.12" stroke-width="1.1" fill="none" stroke="#fff"/>
<path d="M1175.74,874.72 L1178.74,880.72" stroke-width="1.1" fill="none" stroke="#fff"/>
<path d="M1172.94,876.32 L1175.94,882.32" stroke-width="1.1" fill="none" stroke="#fff"/>
<path d="M1170.14,877.92 L1173.14,883.92" stroke-width="1.1" fill="none" stroke="#fff"/>
<ellipse cx="1189" cy="871" rx="9" ry="10.5" transform="rotate(-25 1189 871)" stroke-width="0" fill="#000"/>
<ellipse cx="1191.5" cy="870" rx="5" ry="7.5" transform="rotate(-25 1191.5 870)" stroke-width="0" fill="#fff"/>
<path d="M1190,867 L1192,875" stroke-width="1.2" fill="none" />
<path d="M1242,905 L1221,917" stroke-width="9" fill="none" />
<path d="M1237.14,903.92 L1240.14,909.92" stroke-width="1.1" fill="none" stroke="#fff"/>
<path d="M1234.34,905.52 L1237.34,911.52" stroke-width="1.1" fill="none" stroke="#fff"/>
<path d="M1231.54,907.12 L1234.54,913.12" stroke-width="1.1" fill="none" stroke="#fff"/>
<path d="M1228.74,908.72 L1231.74,914.72" stroke-width="1.1" fill="none" stroke="#fff"/>
<path d="M1225.94,910.32 L1228.94,916.32" stroke-width="1.1" fill="none" stroke="#fff"/>
<path d="M1223.14,911.92 L1226.14,917.92" stroke-width="1.1" fill="none" stroke="#fff"/>
<ellipse cx="1242" cy="905" rx="9" ry="10.5" transform="rotate(-25 1242 905)" stroke-width="0" fill="#000"/>
<ellipse cx="1244.5" cy="904" rx="5" ry="7.5" transform="rotate(-25 1244.5 904)" stroke-width="0" fill="#fff"/>
<path d="M1243,901 L1245,909" stroke-width="1.2" fill="none" />
<polyline points="906,1032 1167,886" stroke-width="1.6" fill="none" stroke-dasharray="70 8 8 8" stroke-dashoffset="0"/>
<polyline points="945,1078 1149,960 1220,919" stroke-width="1.6" fill="none" stroke-dasharray="70 8 8 8" stroke-dashoffset="0"/>
<polyline points="1165,1081 1274,1022" stroke-width="1.6" fill="none" stroke-dasharray="14 5 4 5" stroke-dashoffset="0"/>
<path d="M660.9,1158.4 Q661,1154 666,1152 L791.2,1082 L801.5,1081 L806.7,1074.3 L835.8,1055.4" stroke-width="2.0" fill="none" />
<path d="M695.2,1196 L829,1119" stroke-width="1.7" fill="none" />
<path d="M663,1155 L671.2,1167.8 L672,1197.8 Q676,1202 686.6,1201.2" stroke-width="2.0" fill="none" />
<path d="M731.2,1221.8 L736,1219 L844.4,1158.4 L851.3,1155 L863.3,1144.6 L873.6,1138.6 L882,1136" stroke-width="2.0" fill="none" />
<polyline points="839.3,1093 885.6,1132.6" stroke-width="1.6" fill="none" stroke-dasharray="12 4 4 4" stroke-dashoffset="0"/>
<path d="M643.7,1160 Q645,1158 647,1160 L669.5,1167.8 L672.9,1201.2 L644.6,1189.2 L642.9,1161.8" stroke-width="2.0" fill="#fff" />
<path d="M666,1167 L668,1200" stroke-width="1.2" fill="none" />
<circle cx="654.9" cy="1180.6" r="3.2" stroke-width="0" fill="#000"/>
<path d="M686.6,1204.7 L703.8,1197.8 L723.5,1225.2 L708,1237.3 Z" stroke-width="1.9" fill="#fff" />
<path d="M706,1200 L725,1226" stroke-width="1.2" fill="none" />
<circle cx="702.9" cy="1219.2" r="3.2" stroke-width="0" fill="#000"/>
<polyline points="710.6,1216.7 733,1204.7" stroke-width="1.5" fill="none" stroke-dasharray="6 4" stroke-dashoffset="0"/>
<ellipse cx="771.5" cy="1119" rx="29.5" ry="19.7" transform="rotate(0 771.5 1119)" stroke-width="2.0" fill="none"/>
<ellipse cx="771.9" cy="1120" rx="23.6" ry="9.8" transform="rotate(0 771.9 1120)" stroke-width="1.8" fill="none"/>
<path d="M743,1124 Q748,1140 772,1141 Q796,1140 800,1124" stroke-width="1.6" fill="none" />
<path d="M876.7,1026 Q877,1023 881,1024 L900,1034 Q903,1036 903,1040 L903.6,1060 L912.6,1071.8 L937,1061.7 L955,1089.7 L935,1103 L915,1100" stroke-width="2.0" fill="none" />
<path d="M877,1026 L877,1047" stroke-width="2.0" fill="none" />
<circle cx="884.5" cy="1044.9" r="5" stroke-width="1" fill="#000"/>
<circle cx="933.9" cy="1086.3" r="5" stroke-width="1" fill="#000"/>
<polyline points="679.7,1114 679.7,1143" stroke-width="1.6" fill="none" stroke-dasharray="10 4" stroke-dashoffset="0"/>
<polyline points="679.7,1153 679.7,1194 681,1258" stroke-width="1.6" fill="none" stroke-dasharray="10 4 3 4" stroke-dashoffset="0"/>
<circle cx="679.7" cy="1154.7" r="2" stroke-width="0" fill="#000"/>
<ellipse cx="833.3" cy="1074.3" rx="2.5" ry="1.8" transform="rotate(0 833.3 1074.3)" stroke-width="1.4" fill="none"/>
<ellipse cx="838.4" cy="1085.5" rx="2.5" ry="1.8" transform="rotate(0 838.4 1085.5)" stroke-width="1.4" fill="none"/>
<polyline points="857.6,1077 917,1112" stroke-width="1.6" fill="none" stroke-dasharray="14 5 4 5" stroke-dashoffset="0"/>
<polyline points="841,1108.6 890,1081" stroke-width="1.6" fill="none" stroke-dasharray="14 5 4 5" stroke-dashoffset="0"/>
<path d="M681.6,1013.5 Q684,1010 690,1011 Q697,1014 697,1020 L699.5,1044.8 Q701,1052 704,1056 L704,1107.6 Q701,1115 690,1118 L674.9,1122 L663.6,1121 Q658,1118 659,1112 L674.9,1099 L683.8,1096 L681.6,1013.5 Z" stroke-width="2.0" fill="#fff" />
<path d="M683,1040 L697,1044 M687,1018 L695,1020 L696,1042" stroke-width="1.2" fill="none" />
<circle cx="678.2" cy="1106.5" r="4.5" stroke-width="1" fill="#000"/>
<path d="M885,1163.5 L885,1180" stroke-width="4.5" fill="none" />
<path d="M881,1179 L891,1179 L891,1188 Q886,1191 881,1188 Z" stroke-width="1" fill="#000" />
<polyline points="885.7,1134.6 885.7,1157" stroke-width="1.5" fill="none" stroke-dasharray="6 3" stroke-dashoffset="0"/>
<path d="M681,1259 L681.5,1280" stroke-width="5.5" fill="none" />
<path d="M673,1282 Q673,1277.5 681,1277.5 Q689,1277.5 689,1282 L689,1288 Q681,1294 673,1288 Z" stroke-width="1.8" fill="#000" />
<ellipse cx="681" cy="1281" rx="5" ry="2.3" transform="rotate(0 681 1281)" stroke-width="0" fill="#fff"/>
<path d="M1165.0,1082.2 A11,14.5 0 1 0 1165.0,1098.8" stroke-width="6" fill="none" transform="translate(3,-1)"/>
<path d="M1165.0,1082.2 A11,14.5 0 1 0 1165.0,1098.8" stroke-width="2.6" fill="none" transform="translate(3,-1)" stroke="#fff"/>
<path d="M1165.0,1082.2 A11,14.5 0 1 0 1165.0,1098.8" stroke-width="6" fill="none" />
<path d="M1165.0,1082.2 A11,14.5 0 1 0 1165.0,1098.8" stroke-width="2.6" fill="none" stroke="#fff"/>
<path d="M754.0,1321.7 A11,14.5 0 1 0 754.0,1338.3" stroke-width="6" fill="none" transform="translate(3,-1)"/>
<path d="M754.0,1321.7 A11,14.5 0 1 0 754.0,1338.3" stroke-width="2.6" fill="none" transform="translate(3,-1)" stroke="#fff"/>
<path d="M754.0,1321.7 A11,14.5 0 1 0 754.0,1338.3" stroke-width="6" fill="none" />
<path d="M754.0,1321.7 A11,14.5 0 1 0 754.0,1338.3" stroke-width="2.6" fill="none" stroke="#fff"/>
<polyline points="760,1321 775,1313" stroke-width="1.5" fill="none" stroke-dasharray="6 3" stroke-dashoffset="0"/>
<polyline points="1174,1077 1220,1050" stroke-width="1.5" fill="none" stroke-dasharray="14 5 4 5" stroke-dashoffset="0"/>
<polyline points="1046.7,1153 1150,1093" stroke-width="1.6" fill="none" stroke-dasharray="70 8 8 8" stroke-dashoffset="0"/>
<path d="M513,1234 L548,1253" stroke-width="5.5" fill="none" />
<path d="M514,1234 L547,1252.5" stroke-width="2.5" fill="none" stroke="#fff"/>
<path d="M515.0,1232.5 L513.5,1237.5" stroke-width="0.9" fill="none" />
<path d="M518.3,1234.3 L516.8,1239.3" stroke-width="0.9" fill="none" />
<path d="M521.6,1236.1 L520.1,1241.1" stroke-width="0.9" fill="none" />
<path d="M524.9,1237.9 L523.4,1242.9" stroke-width="0.9" fill="none" />
<path d="M528.2,1239.7 L526.7,1244.7" stroke-width="0.9" fill="none" />
<path d="M531.5,1241.5 L530.0,1246.5" stroke-width="0.9" fill="none" />
<path d="M534.8,1243.3 L533.3,1248.3" stroke-width="0.9" fill="none" />
<path d="M538.1,1245.1 L536.6,1250.1" stroke-width="0.9" fill="none" />
<path d="M541.4,1246.9 L539.9,1251.9" stroke-width="0.9" fill="none" />
<path d="M544.7,1248.7 L543.2,1253.7" stroke-width="0.9" fill="none" />
<path d="M548,1251 L764,1364 Q770,1368 777,1364 L784,1359 M547,1256 L760,1369 Q767,1374 780,1368 L786,1364" stroke-width="1.6" fill="none" />
<path d="M842,1258.7 L1003.9,1166.4 M853.8,1275.2 L1010,1186" stroke-width="2.0" fill="none" />
<path d="M1023,1157 L1038,1150 Q1046,1150 1045,1160 L1043,1163 L1030,1170" stroke-width="1.9" fill="#fff" />
<path d="M1001.5,1172 L1000,1162 Q1002,1155 1008,1155.5 L1148.3,1226.3 L1199.4,1229.6 Q1204,1232 1204.4,1240 L1204.4,1249.4 L1198,1259 L1194.6,1259.3 L1146.7,1256 L1014.7,1185 Z" stroke-width="2.0" fill="#fff" />
<path d="M1010,1161.5 L1145,1230 L1196,1233" stroke-width="1.3" fill="none" />
<path d="M1197,1233 L1195,1258" stroke-width="1.3" fill="none" />
<ellipse cx="1009.5" cy="1175" rx="6.5" ry="9" transform="rotate(20 1009.5 1175)" stroke-width="1.9" fill="#fff"/>
<ellipse cx="1064.9" cy="1201" rx="3" ry="3.5" transform="rotate(0 1064.9 1201)" stroke-width="1.5" fill="none"/>
<ellipse cx="1185.2" cy="1245.5" rx="3.5" ry="4" transform="rotate(0 1185.2 1245.5)" stroke-width="1.5" fill="none"/>
<path d="M821,1271 L820.2,1264.8 Q822,1258 829.7,1258.5 L840,1260 Q849,1265 851,1272.7 L854.2,1276.7 L855,1305.2 L846,1303" stroke-width="2.0" fill="#fff" />
<path d="M851,1275 L852,1304" stroke-width="1.2" fill="none" />
<path d="M823.3,1324.2 Q826,1340 847,1345" stroke-width="1.8" fill="none" />
<path d="M809,1279.8 L829.7,1269.5 M812,1293 L831,1290" stroke-width="1.8" fill="none" />
<ellipse cx="832.8" cy="1279.8" rx="6" ry="10.3" transform="rotate(-10 832.8 1279.8)" stroke-width="1.8" fill="none"/>
<path d="M786,1290 L787,1283.8 Q790,1278 795.6,1279 L802,1277.5 L931.3,1351 L987.4,1356 Q993,1358 992.3,1371 L986,1381 Q984,1383 980,1382 L931,1378 L801.2,1310" stroke-width="2.0" fill="#fff" />
<path d="M797.2,1282.2 L928,1354" stroke-width="1.2" fill="none" />
<path d="M777.4,1297.3 L796,1287 M783,1314 L802.8,1303" stroke-width="1.9" fill="none" />
<ellipse cx="783.8" cy="1306" rx="6.3" ry="9.5" transform="rotate(30 783.8 1306)" stroke-width="1.9" fill="#fff"/>
<ellipse cx="855.8" cy="1326.6" rx="3" ry="4" transform="rotate(0 855.8 1326.6)" stroke-width="1.5" fill="none"/>
<ellipse cx="972.5" cy="1371" rx="3" ry="3.5" transform="rotate(0 972.5 1371)" stroke-width="1.5" fill="none"/>
<polyline points="792.8,1354.4 832.3,1334.6" stroke-width="1.5" fill="none" stroke-dasharray="14 5 4 5" stroke-dashoffset="0"/>
<path d="M907,1254 L907.5,1277" stroke-width="5.5" fill="none" />
<path d="M905,1260 L910,1263 M905,1266 L910,1269 M905,1272 L910,1275" stroke-width="1" fill="none" stroke="#fff"/>
<ellipse cx="899" cy="1305" rx="9" ry="8" transform="rotate(-20 899 1305)" stroke-width="2.2" fill="#fff"/>
<ellipse cx="899" cy="1305" rx="4" ry="3.5" transform="rotate(-20 899 1305)" stroke-width="1.5" fill="none"/>
<polyline points="908,1282 908,1296" stroke-width="1.4" fill="none" stroke-dasharray="4 3" stroke-dashoffset="0"/>
<polyline points="880,1315 889,1310" stroke-width="1.4" fill="none" stroke-dasharray="4 3" stroke-dashoffset="0"/>
<polyline points="909,1298 918,1293" stroke-width="1.4" fill="none" stroke-dasharray="4 3" stroke-dashoffset="0"/>
<path d="M449.5,1385.5 L450.3,1407.6 L517.6,1448.8 L519,1426.6" stroke-width="2.0" fill="none" />
<path d="M449.5,1385.5 L476.4,1368 L478,1365 L550.8,1323 Q553,1322 555.6,1323.7 L642.6,1374.4 Q646,1378 644.2,1380.7 L606.2,1401.3 L581,1386.3 Q577,1385 573,1388 L544.5,1409.2 L522.3,1423.5 L519,1426.6" stroke-width="2.0" fill="none" />
<path d="M453.5,1388.6 L516,1423.5" stroke-width="1.4" fill="none" />
<polyline points="478,1376 541.3,1406" stroke-width="1.2" fill="none" stroke-dasharray="20 3 6 3" stroke-dashoffset="0"/>
<polyline points="481,1372 546,1402" stroke-width="1.2" fill="none" stroke-dasharray="30 4" stroke-dashoffset="0"/>
<path d="M544.5,1338 Q544,1334 548,1334 L554,1334.8 L622,1374.4 L614,1382.3 Q608,1384 603,1382 Q598,1380 592,1374.4 L544.5,1341 Z" stroke-width="2.4" fill="none" />
<path d="M590.4,1346 L609.4,1344.3 L626.8,1366.5" stroke-width="1.5" fill="none" />
<path d="M555.6,1410.8 Q555,1420 560,1420.3 L604.6,1401.3 L582.5,1388.6 L560,1404 Z" stroke-width="1.8" fill="none" />
<path d="M614,1395 L644,1377.6" stroke-width="3.5" fill="none" />
<circle cx="458.2" cy="1402" r="3.2" stroke-width="0" fill="#000"/>
<circle cx="509.7" cy="1433" r="3.2" stroke-width="0" fill="#000"/>
<circle cx="560.3" cy="1414" r="3" stroke-width="0" fill="#000"/>
<path d="M137.6,1330 Q138,1325 148.9,1325 L217.8,1364 Q226,1366 235.4,1361.4 L449.7,1483 Q453,1486 451,1488 L446,1500.5 L438.4,1504.3 L442.2,1525.6 Q432,1530 433.4,1535.6 Q438,1550 447.2,1553.2 L453.5,1580.7 Q452,1588 446,1588.3 Q425,1592 405.8,1589.5 L140,1435 Q130,1430 132.6,1424 L137.6,1415.3 L150,1406.5 L152.6,1402.8 Z" stroke-width="2.0" fill="#fff" />
<path d="M160.2,1409 L433.4,1563" stroke-width="1.5" fill="none" />
<path d="M138,1431 L407,1585" stroke-width="1.2" fill="none" />
<path d="M152,1330 L446,1497" stroke-width="1.1" fill="none" />
<ellipse cx="160.2" cy="1371.4" rx="12" ry="13" transform="rotate(0 160.2 1371.4)" stroke-width="2.0" fill="none"/>
<ellipse cx="161.2" cy="1371.4" rx="6" ry="7" transform="rotate(0 161.2 1371.4)" stroke-width="1.6" fill="none"/>
<ellipse cx="158.2" cy="1371.4" rx="9" ry="10" transform="rotate(0 158.2 1371.4)" stroke-width="1" fill="none"/>
<ellipse cx="200.3" cy="1417.8" rx="11" ry="12" transform="rotate(0 200.3 1417.8)" stroke-width="2.0" fill="none"/>
<ellipse cx="201.3" cy="1417.8" rx="6" ry="7" transform="rotate(0 201.3 1417.8)" stroke-width="1.6" fill="none"/>
<ellipse cx="198.3" cy="1417.8" rx="8" ry="9" transform="rotate(0 198.3 1417.8)" stroke-width="1" fill="none"/>
<ellipse cx="417.1" cy="1519.3" rx="12" ry="13" transform="rotate(0 417.1 1519.3)" stroke-width="2.0" fill="none"/>
<ellipse cx="418.1" cy="1519.3" rx="6" ry="7" transform="rotate(0 418.1 1519.3)" stroke-width="1.6" fill="none"/>
<ellipse cx="415.1" cy="1519.3" rx="9" ry="10" transform="rotate(0 415.1 1519.3)" stroke-width="1" fill="none"/>
<ellipse cx="200.3" cy="1382.7" rx="4.5" ry="6" transform="rotate(0 200.3 1382.7)" stroke-width="1.6" fill="none"/>
<ellipse cx="147.6" cy="1345" rx="3" ry="3.5" transform="rotate(0 147.6 1345)" stroke-width="1.5" fill="#000"/>
<ellipse cx="263" cy="1389" rx="3" ry="3.5" transform="rotate(0 263 1389)" stroke-width="1.5" fill="#000"/>
<ellipse cx="249" cy="1417.8" rx="3" ry="3.5" transform="rotate(0 249 1417.8)" stroke-width="1.5" fill="#000"/>
<ellipse cx="295.5" cy="1459" rx="3" ry="3.5" transform="rotate(0 295.5 1459)" stroke-width="1.5" fill="#000"/>
<ellipse cx="344.4" cy="1468" rx="3" ry="3.5" transform="rotate(0 344.4 1468)" stroke-width="1.5" fill="#000"/>
<ellipse cx="420.9" cy="1479.2" rx="3" ry="3.5" transform="rotate(0 420.9 1479.2)" stroke-width="1.5" fill="#000"/>
<ellipse cx="151.4" cy="1419" rx="4.5" ry="3.2" transform="rotate(0 151.4 1419)" stroke-width="1.5" fill="none"/>
<ellipse cx="197.8" cy="1456.7" rx="4.5" ry="3.2" transform="rotate(0 197.8 1456.7)" stroke-width="1.5" fill="none"/>
<ellipse cx="236.6" cy="1478" rx="4.5" ry="3.2" transform="rotate(0 236.6 1478)" stroke-width="1.5" fill="none"/>
<ellipse cx="304.3" cy="1511.8" rx="4.5" ry="3.2" transform="rotate(0 304.3 1511.8)" stroke-width="1.5" fill="none"/>
<ellipse cx="368.2" cy="1549.4" rx="4.5" ry="3.2" transform="rotate(0 368.2 1549.4)" stroke-width="1.5" fill="none"/>
<ellipse cx="417.1" cy="1578.2" rx="4.5" ry="3.2" transform="rotate(0 417.1 1578.2)" stroke-width="1.5" fill="none"/>
<ellipse cx="394.6" cy="1496.8" rx="4.5" ry="3.2" transform="rotate(0 394.6 1496.8)" stroke-width="1.5" fill="none"/>
<path d="M116.55,1492.15 L133.8,1484.2" stroke-width="9" fill="none" />
<path d="M117.81,1487.8780000000002 L120.81,1493.8780000000002" stroke-width="1.1" fill="none" stroke="#fff"/>
<path d="M120.11,1486.818 L123.11,1492.818" stroke-width="1.1" fill="none" stroke="#fff"/>
<path d="M122.41,1485.758 L125.41,1491.758" stroke-width="1.1" fill="none" stroke="#fff"/>
<path d="M124.71000000000001,1484.698 L127.71000000000001,1490.698" stroke-width="1.1" fill="none" stroke="#fff"/>
<path d="M127.01000000000002,1483.6380000000001 L130.01000000000002,1489.6380000000001" stroke-width="1.1" fill="none" stroke="#fff"/>
<path d="M129.31,1482.578 L132.31,1488.578" stroke-width="1.1" fill="none" stroke="#fff"/>
<ellipse cx="112.55" cy="1496.15" rx="9.25" ry="10.649999999999977" transform="rotate(-25 112.55 1496.15)" stroke-width="0" fill="#000"/>
<ellipse cx="110.05" cy="1497.65" rx="5.2" ry="7.8" transform="rotate(-25 110.05 1497.65)" stroke-width="0" fill="#fff"/>
<path d="M108.55,1494.15 L111.55,1501.15" stroke-width="1.2" fill="none" />
<path d="M168.5,1530.85 L186.5,1521.8" stroke-width="9" fill="none" />
<path d="M169.88,1526.4019999999998 L172.88,1532.4019999999998" stroke-width="1.1" fill="none" stroke="#fff"/>
<path d="M172.28,1525.1953333333333 L175.28,1531.1953333333333" stroke-width="1.1" fill="none" stroke="#fff"/>
<path d="M174.68,1523.9886666666666 L177.68,1529.9886666666666" stroke-width="1.1" fill="none" stroke="#fff"/>
<path d="M177.08,1522.782 L180.08,1528.782" stroke-width="1.1" fill="none" stroke="#fff"/>
<path d="M179.48,1521.5753333333332 L182.48,1527.5753333333332" stroke-width="1.1" fill="none" stroke="#fff"/>
<path d="M181.88,1520.3686666666665 L184.88,1526.3686666666665" stroke-width="1.1" fill="none" stroke="#fff"/>
<ellipse cx="164.5" cy="1534.85" rx="10.0" ry="10.850000000000023" transform="rotate(-25 164.5 1534.85)" stroke-width="0" fill="#000"/>
<ellipse cx="162.0" cy="1536.35" rx="5.2" ry="7.8" transform="rotate(-25 162.0 1536.35)" stroke-width="0" fill="#fff"/>
<path d="M160.5,1532.85 L163.5,1539.85" stroke-width="1.2" fill="none" />
<path d="M202.4,1549.75 L221.6,1540.6" stroke-width="9" fill="none" />
<path d="M203.972,1545.286 L206.972,1551.286" stroke-width="1.1" fill="none" stroke="#fff"/>
<path d="M206.532,1544.066 L209.532,1550.066" stroke-width="1.1" fill="none" stroke="#fff"/>
<path d="M209.092,1542.846 L212.092,1548.846" stroke-width="1.1" fill="none" stroke="#fff"/>
<path d="M211.652,1541.626 L214.652,1547.626" stroke-width="1.1" fill="none" stroke="#fff"/>
<path d="M214.212,1540.406 L217.212,1546.406" stroke-width="1.1" fill="none" stroke="#fff"/>
<path d="M216.772,1539.186 L219.772,1545.186" stroke-width="1.1" fill="none" stroke="#fff"/>
<ellipse cx="198.4" cy="1553.75" rx="9.900000000000006" ry="10.75" transform="rotate(-25 198.4 1553.75)" stroke-width="0" fill="#000"/>
<ellipse cx="195.9" cy="1555.25" rx="5.2" ry="7.8" transform="rotate(-25 195.9 1555.25)" stroke-width="0" fill="#fff"/>
<path d="M194.4,1551.75 L197.4,1558.75" stroke-width="1.2" fill="none" />
<path d="M253.8,1578.65 L271.7,1568.2" stroke-width="9" fill="none" />
<path d="M255.164,1573.978 L258.164,1579.978" stroke-width="1.1" fill="none" stroke="#fff"/>
<path d="M257.55066666666664,1572.5846666666666 L260.55066666666664,1578.5846666666666" stroke-width="1.1" fill="none" stroke="#fff"/>
<path d="M259.93733333333336,1571.1913333333334 L262.93733333333336,1577.1913333333334" stroke-width="1.1" fill="none" stroke="#fff"/>
<path d="M262.324,1569.798 L265.324,1575.798" stroke-width="1.1" fill="none" stroke="#fff"/>
<path d="M264.71066666666667,1568.4046666666668 L267.71066666666667,1574.4046666666668" stroke-width="1.1" fill="none" stroke="#fff"/>
<path d="M267.0973333333333,1567.0113333333334 L270.0973333333333,1573.0113333333334" stroke-width="1.1" fill="none" stroke="#fff"/>
<ellipse cx="249.8" cy="1582.65" rx="9.899999999999991" ry="10.649999999999977" transform="rotate(-25 249.8 1582.65)" stroke-width="0" fill="#000"/>
<ellipse cx="247.3" cy="1584.15" rx="5.2" ry="7.8" transform="rotate(-25 247.3 1584.15)" stroke-width="0" fill="#fff"/>
<path d="M245.8,1580.65 L248.8,1587.65" stroke-width="1.2" fill="none" />
<polyline points="135,1480.5 249,1417.8" stroke-width="1.6" fill="none" stroke-dasharray="16 6 5 6" stroke-dashoffset="0"/>
<polyline points="187.7,1519.3 295.5,1459" stroke-width="1.6" fill="none" stroke-dasharray="16 6 5 6" stroke-dashoffset="0"/>
<polyline points="222.8,1538 344.4,1468" stroke-width="1.6" fill="none" stroke-dasharray="16 6 5 6" stroke-dashoffset="0"/>
<polyline points="273,1565.7 394.6,1496.8" stroke-width="1.6" fill="none" stroke-dasharray="16 6 5 6" stroke-dashoffset="0"/>
<polyline points="297,1387 655,1182" stroke-width="1.6" fill="none" stroke-dasharray="70 8 8 8" stroke-dashoffset="0"/>
<polyline points="355.7,1425.3 478,1352 566.6,1300 699,1221" stroke-width="1.6" fill="none" stroke-dasharray="70 8 8 8" stroke-dashoffset="0"/>
<polyline points="706,1217 733,1205" stroke-width="1.5" fill="none" stroke-dasharray="8 4" stroke-dashoffset="0"/>
<polyline points="388.3,1444 458.2,1402" stroke-width="1.6" fill="none" stroke-dasharray="70 8 8 8" stroke-dashoffset="0"/>
<polyline points="441,1471.7 509.7,1433" stroke-width="1.6" fill="none" stroke-dasharray="14 5 4 5" stroke-dashoffset="0"/>
<polyline points="452,1500 519,1460 630,1398 680,1368 747,1328" stroke-width="1.6" fill="none" stroke-dasharray="70 8 8 8" stroke-dashoffset="0"/>
<path d="M1072,1426.4 Q1072,1419 1080.2,1419.8 L1205.6,1494 L1258.3,1502.2 Q1266,1505 1265,1520 L1259,1530 L1199,1518.7 L1080,1447.8 Q1072,1444 1072,1439.6 Z" stroke-width="2.0" fill="#fff" />
<path d="M1080.2,1428 L1203,1500" stroke-width="1.2" fill="none" />
<ellipse cx="1085.2" cy="1439.6" rx="4.5" ry="5" transform="rotate(0 1085.2 1439.6)" stroke-width="1.6" fill="none"/>
<ellipse cx="1145.5" cy="1474" rx="3" ry="3.5" transform="rotate(0 1145.5 1474)" stroke-width="1.5" fill="none"/>
<ellipse cx="1246.8" cy="1515.4" rx="3.5" ry="4" transform="rotate(0 1246.8 1515.4)" stroke-width="1.5" fill="none"/>
<path d="M874,1555 L1027.5,1464.3 M879,1565 L1035.7,1480.8" stroke-width="1.9" fill="none" />
<path d="M849.4,1562 L849.4,1556 Q851,1551 858,1551 L869,1550 Q876,1554 879,1565 L879,1598 L866,1595" stroke-width="1.9" fill="#fff" />
<path d="M874,1562 L874.5,1597" stroke-width="1.2" fill="none" />
<path d="M811,1591 L811,1578 Q812,1570 818,1570 L823,1570 L945,1644 L1001,1654 Q1007,1656 1006,1664 L1001,1677 L988,1678.7 L935,1667 L823,1601" stroke-width="2.0" fill="#fff" />
<path d="M816,1575 L943,1648" stroke-width="1.2" fill="none" />
<path d="M815,1586 L838,1575 M822,1601 L843,1590" stroke-width="1.9" fill="none" />
<ellipse cx="819.5" cy="1594" rx="5.5" ry="8" transform="rotate(30 819.5 1594)" stroke-width="1.9" fill="#fff"/>
<ellipse cx="885.6" cy="1626" rx="3" ry="3.5" transform="rotate(0 885.6 1626)" stroke-width="1.5" fill="none"/>
<ellipse cx="986" cy="1664" rx="3.5" ry="4" transform="rotate(0 986 1664)" stroke-width="1.5" fill="none"/>
<path d="M1017.6,1460 Q1018,1454 1026,1455 L1034,1454.4 L1063.7,1469 L1070,1469 L1103,1489 Q1114,1497 1113,1510 Q1112,1525 1103,1528.6 L1093.4,1530 Q1086,1530 1053.8,1502 L1050.5,1495.6 L1027.5,1482.5 L1017.6,1470 Z" stroke-width="2.0" fill="#fff" />
<ellipse cx="1091" cy="1508.8" rx="10" ry="14" transform="rotate(-20 1091 1508.8)" stroke-width="2.0" fill="none"/>
<ellipse cx="1091" cy="1509" rx="6.5" ry="10" transform="rotate(-20 1091 1509)" stroke-width="1.5" fill="none"/>
<path d="M1033,1461 L1051,1451 M1036,1468 L1055,1459" stroke-width="1.8" fill="none" />
<ellipse cx="1054" cy="1455" rx="4" ry="6" transform="rotate(25 1054 1455)" stroke-width="1.8" fill="#fff"/>
<polyline points="1058.8,1454.4 1073.6,1447.8" stroke-width="1.4" fill="none" stroke-dasharray="4 3" stroke-dashoffset="0"/>
<path d="M1011,1716.6 L1250,1578 M1013,1722 L1252,1583" stroke-width="1.7" fill="none" />
<path d="M988,1724 Q992,1713 1002,1712 L1011,1716 Q1013,1724 1006,1730 Q998,1734 990,1733 Z" stroke-width="2.0" fill="#fff" />
<path d="M1238,1585 L1242,1592 M1234,1588 L1238,1595" stroke-width="1.3" fill="none" />
<ellipse cx="1211" cy="1568.5" rx="6.5" ry="8" transform="rotate(-20 1211 1568.5)" stroke-width="1" fill="#000"/>
<path d="M1207,1566 L1215,1571 M1209,1571 L1211,1563" stroke-width="1.3" fill="none" stroke="#fff"/>
<polyline points="968,1677 992.7,1693.6 1187,1582 1168.6,1571 1211.5,1545.3 1259.6,1574 1254.5,1577" stroke-width="1.5" fill="none" stroke-dasharray="5 3" stroke-dashoffset="0"/>
<polyline points="1214,1572 1226,1581" stroke-width="1.4" fill="none" stroke-dasharray="3 3" stroke-dashoffset="0"/>
<g stroke-width="0.7"><text x="1357" y="1785.5" font-size="36" textLength="127" lengthAdjust="spacingAndGlyphs" style="font-family:'Liberation Serif',serif;font-weight:normal"><tspan fill="#4a6cb8" stroke="#4a6cb8">m</tspan><tspan fill="#5bb04a" stroke="#5bb04a">o</tspan><tspan fill="#e0609a" stroke="#e0609a">t</tspan><tspan fill="#1e9a3c" stroke="#1e9a3c">o</tspan><tspan fill="#e8531f" stroke="#e8531f">r</tspan><tspan fill="#f0a020" stroke="#f0a020">u</tspan><tspan fill="#f2cc1a" stroke="#f2cc1a">f</tspan></text><text x="1486" y="1785" font-size="19" stroke="none" style="font-family:'Liberation Serif',serif;font-weight:normal" fill="#333">.de</text></g>
</g>
</svg></body></html>
